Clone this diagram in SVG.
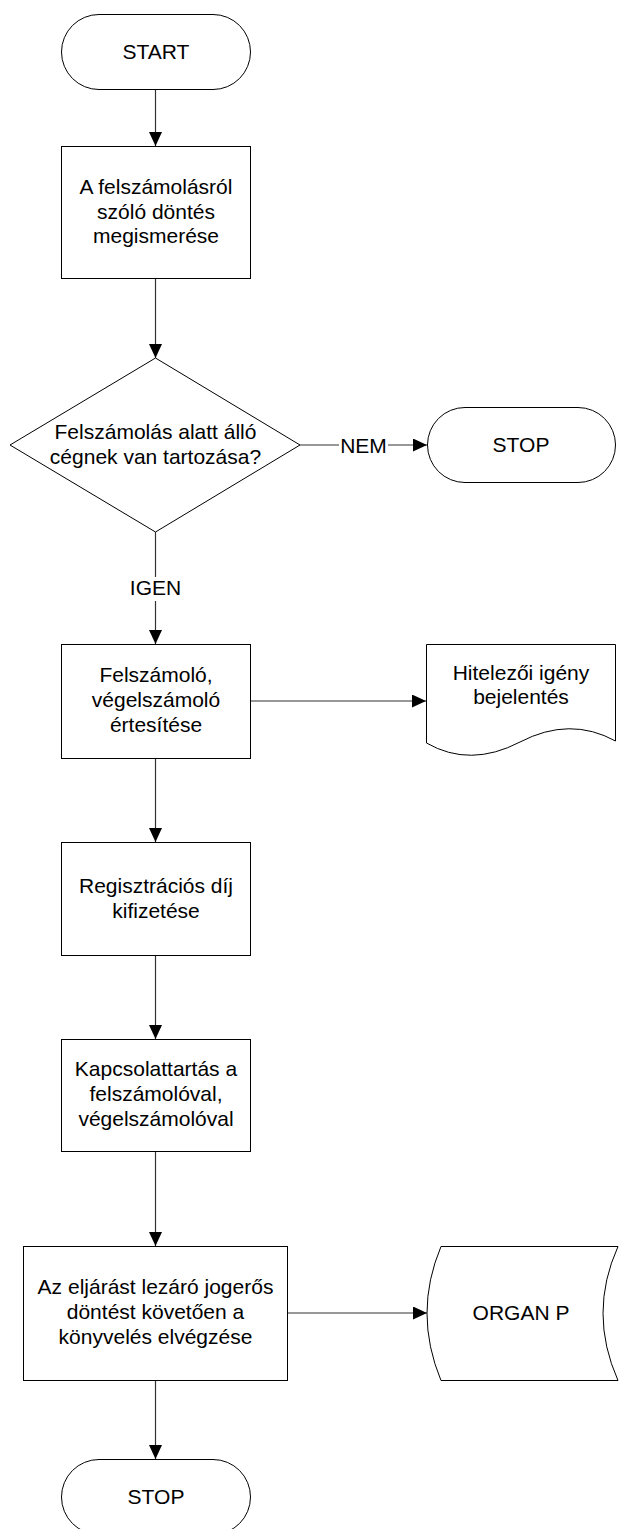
<svg xmlns="http://www.w3.org/2000/svg" width="620" height="1529" viewBox="0 0 620 1529">
  <style>
    .shape { fill: #ffffff; stroke: #000000; stroke-width: 1; }
    .conn { fill: none; stroke: #333333; stroke-width: 1.2; }
    text { font-family: "Liberation Sans", Arial, sans-serif; font-size: 21px; fill: #000000; text-anchor: middle; }
  </style>
  <defs>
    <marker id="arrow" markerUnits="userSpaceOnUse" markerWidth="15" markerHeight="14" refX="14" refY="6.5" orient="auto">
      <path d="M0,0 L14,6.5 L0,13 Z" fill="#000000"/>
    </marker>
  </defs>

  <rect width="620" height="1529" fill="#ffffff"/>

  <!-- connectors -->
  <g id="connectors">
    <path class="conn" d="M155.5,89 V146" marker-end="url(#arrow)"/>
    <path class="conn" d="M155.5,278 V358" marker-end="url(#arrow)"/>
    <path class="conn" d="M300,445 H339"/>
    <path class="conn" d="M388,445 H427" marker-end="url(#arrow)"/>
    <text x="363.5" y="452.5">NEM</text>
    <path class="conn" d="M155.5,532 V577"/>
    <path class="conn" d="M155.5,601 V644" marker-end="url(#arrow)"/>
    <text x="155.5" y="595">IGEN</text>
    <path class="conn" d="M250,701 H426" marker-end="url(#arrow)"/>
    <path class="conn" d="M155.5,758 V842" marker-end="url(#arrow)"/>
    <path class="conn" d="M155.5,955 V1039" marker-end="url(#arrow)"/>
    <path class="conn" d="M155.5,1151 V1246" marker-end="url(#arrow)"/>
    <path class="conn" d="M287,1313 H427" marker-end="url(#arrow)"/>
    <path class="conn" d="M155.5,1380 V1459" marker-end="url(#arrow)"/>
  </g>

  <!-- start terminal -->
  <g id="start">
    <rect class="shape" x="61.5" y="14.5" width="189" height="75" rx="37.5" ry="37.5"/>
    <text x="156" y="58.5">START</text>
  </g>

  <!-- learning about the decision -->
  <g id="box-decision-known">
    <rect class="shape" x="61.5" y="146.5" width="189" height="132"/>
    <text x="156" y="194">A felszámolásról</text>
    <text x="156" y="218.5">szóló döntés</text>
    <text x="156" y="243">megismerése</text>
  </g>

  <!-- debt question -->
  <g id="decision-debt">
    <polygon class="shape" points="155.5,358 300,445 155.5,532 10,445"/>
    <text x="155.5" y="439">Felszámolás alatt álló</text>
    <text x="155.5" y="464">cégnek van tartozása?</text>
  </g>

  <!-- stop on the NEM branch -->
  <g id="stop-nem">
    <rect class="shape" x="427.5" y="407.5" width="188" height="75" rx="37.5" ry="37.5"/>
    <text x="521" y="452">STOP</text>
  </g>

  <!-- notify the liquidator -->
  <g id="box-notify">
    <rect class="shape" x="61.5" y="644.5" width="189" height="114"/>
    <text x="156" y="682">Felszámoló,</text>
    <text x="156" y="707">végelszámoló</text>
    <text x="156" y="732">értesítése</text>
  </g>

  <!-- creditor claim document -->
  <g id="doc-claim">
    <path class="shape" d="M426.5,644.5 H615.5 V741 Q570,716 520,742 T426.5,743 Z"/>
    <text x="521" y="680">Hitelezői igény</text>
    <text x="521" y="704">bejelentés</text>
  </g>

  <!-- registration fee -->
  <g id="box-fee">
    <rect class="shape" x="61.5" y="842.5" width="189" height="113"/>
    <text x="156" y="893">Regisztrációs díj</text>
    <text x="156" y="918">kifizetése</text>
  </g>

  <!-- keep in touch with the liquidator -->
  <g id="box-contact">
    <rect class="shape" x="61.5" y="1039.5" width="189" height="112"/>
    <text x="156" y="1076">Kapcsolattartás a</text>
    <text x="156" y="1101">felszámolóval,</text>
    <text x="156" y="1126">végelszámolóval</text>
  </g>

  <!-- bookkeeping after the final decision -->
  <g id="box-bookkeeping">
    <rect class="shape" x="23.5" y="1246.5" width="264" height="134"/>
    <text x="155.5" y="1294">Az eljárást lezáró jogerős</text>
    <text x="155.5" y="1319">döntést követően a</text>
    <text x="155.5" y="1344">könyvelés elvégzése</text>
  </g>

  <!-- stored data -->
  <g id="store-organ">
    <path class="shape" d="M441,1246.5 H618 Q588,1313 618,1380.5 H441 Q413,1313 441,1246.5 Z"/>
    <text x="521" y="1320">ORGAN P</text>
  </g>

  <!-- final stop -->
  <g id="stop-end">
    <rect class="shape" x="61.5" y="1459.5" width="189" height="75" rx="37.5" ry="37.5"/>
    <text x="156" y="1504">STOP</text>
  </g>
</svg>
